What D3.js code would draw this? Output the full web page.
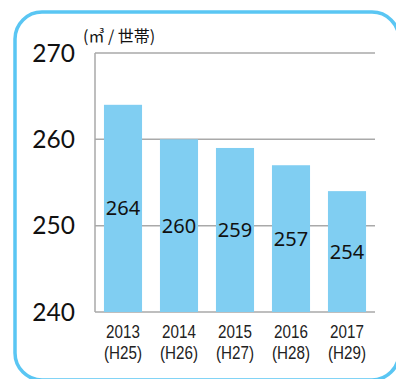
<!DOCTYPE html>
<html>
<head>
<meta charset="utf-8">
<script src="https://cdn.jsdelivr.net/npm/d3@7"></script>
<style>
  html, body { margin: 0; padding: 0; background: #fff; }
  svg { display: block; }
</style>
</head>
<body>
<script>
// Floor area per household, by fiscal year
const years = ["2013", "2014", "2015", "2016", "2017"];
const eras = ["(H25)", "(H26)", "(H27)", "(H28)", "(H29)"];
const values = [264, 260, 259, 257, 254];
const yTicks = [240, 250, 260, 270];
const unitLabel = "(㎥ / 世帯)";

const W = 396, H = 379;
const svg = d3.select("body").append("svg")
  .attr("width", W).attr("height", H);

// Rounded frame
svg.append("rect")
  .attr("x", 15).attr("y", 12)
  .attr("width", 384).attr("height", 368)
  .attr("rx", 27).attr("ry", 27)
  .attr("fill", "none")
  .attr("stroke", "#5ac6f3")
  .attr("stroke-width", 3.5);

const plot = { left: 95, right: 375, top: 53, bottom: 312 };

const x = d3.scaleBand()
  .domain(years)
  .range([plot.left, plot.right])
  .paddingInner(0.32)
  .paddingOuter(0.16);

const y = d3.scaleLinear()
  .domain([240, 270])
  .range([plot.bottom, plot.top]);

// Horizontal grid lines
svg.append("g")
  .selectAll("line")
  .data(yTicks)
  .join("line")
  .attr("x1", plot.left).attr("x2", plot.right)
  .attr("y1", d => y(d)).attr("y2", d => y(d))
  .attr("stroke", "#a9a9a9")
  .attr("stroke-width", 1.5);

// Left axis line
svg.append("line")
  .attr("x1", plot.left).attr("x2", plot.left)
  .attr("y1", y(270)).attr("y2", y(240))
  .attr("stroke", "#a9a9a9")
  .attr("stroke-width", 1.5);

// Y tick labels
svg.append("g")
  .selectAll("text")
  .data(yTicks)
  .join("text")
  .attr("x", 75)
  .attr("y", d => y(d))
  .attr("dy", "0.35em")
  .attr("text-anchor", "end")
  .attr("font-family", "Lato, 'Noto Sans', sans-serif")
  .attr("font-size", 24.5)
  .attr("fill", "#111")
  .text(d => d);

// Unit
svg.append("text")
  .attr("x", 83).attr("y", 42)
  .attr("font-family", "'Noto Sans CJK JP', sans-serif")
  .attr("font-size", 16)
  .attr("fill", "#111")
  .text(unitLabel);

// Bars
svg.append("g")
  .selectAll("rect")
  .data(values)
  .join("rect")
  .attr("x", (d, i) => x(years[i]))
  .attr("y", d => y(d))
  .attr("width", x.bandwidth())
  .attr("height", d => y(240) - y(d))
  .attr("fill", "#80cef2");

// Value labels at bar centre
svg.append("g")
  .selectAll("text")
  .data(values)
  .join("text")
  .attr("x", (d, i) => x(years[i]) + x.bandwidth() / 2)
  .attr("y", d => (y(d) + y(240)) / 2)
  .attr("dy", "0.35em")
  .attr("text-anchor", "middle")
  .attr("font-family", "'Noto Sans', 'DejaVu Sans', sans-serif")
  .attr("font-size", 20)
  .attr("fill", "#111")
  .text(d => d);

// Category labels (condensed, two lines)
const cat = svg.append("g")
  .selectAll("g")
  .data(years)
  .join("g")
  .attr("transform", d => `translate(${x(d) + x.bandwidth() / 2},0) scale(0.8,1)`);

const catText = cat.append("text")
  .attr("text-anchor", "middle")
  .attr("font-family", "'Liberation Sans', Arial, sans-serif")
  .attr("font-size", 19)
  .attr("fill", "#222");

catText.append("tspan")
  .attr("x", 0).attr("y", 338)
  .text(d => d);

catText.append("tspan")
  .attr("x", 0).attr("y", 359.5)
  .text((d, i) => eras[i]);
</script>
</body>
</html>
